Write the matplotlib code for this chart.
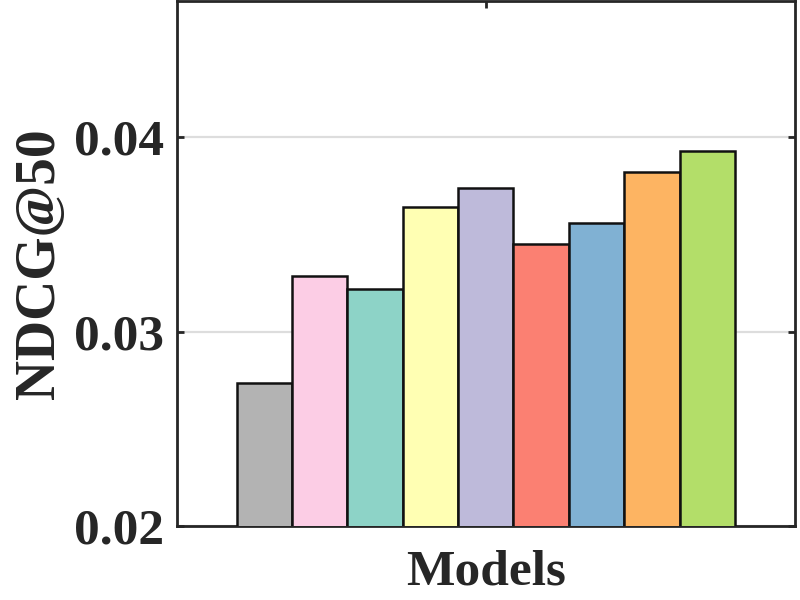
import numpy as np
import matplotlib
matplotlib.use('Agg')
import matplotlib.pyplot as plt

# nilai NDCG@50 per model
models = ['M1', 'M2', 'M3', 'M4', 'M5', 'M6', 'M7', 'M8', 'M9']
ndcg50 = [0.02738, 0.03287, 0.03221, 0.03641, 0.03738, 0.03451, 0.03559, 0.03821, 0.03928]
colors = ['#b3b3b3', '#fccde5', '#8dd3c7', '#ffffb3', '#bebada',
          '#fb8072', '#80b1d3', '#fdb462', '#b3de69']
yticks = [0.02, 0.03, 0.04]

plt.rcParams['font.family'] = ['Liberation Serif', 'DejaVu Serif']
plt.rcParams['font.weight'] = 'bold'

fig = plt.figure(figsize=(8, 6), dpi=100)
ax = fig.add_axes([0.221, 0.1233, 0.7725, 0.875])

w = 0.0896
x = (np.arange(len(models)) - (len(models) - 1) / 2) * w
ax.bar(x, ndcg50, width=w, color=colors, edgecolor='#111111', linewidth=1.8, zorder=3)

ax.set_xlim(-0.5, 0.5)
ax.set_ylim(0.02, 0.047)
ax.set_yticks(yticks)
ax.set_yticklabels(['%.2f' % v for v in yticks])
ax.set_xticks([0])
ax.set_xticklabels([''])

ax.yaxis.grid(True, color='#dddddd', linewidth=1.6, zorder=0)
ax.set_axisbelow(True)

for s in ax.spines.values():
    s.set_color('#262626')
    s.set_linewidth(2)

ax.tick_params(direction='in', length=5, width=2, color='#262626',
               top=True, right=True, labelsize=37, pad=9, labelcolor='#262626')

ax.set_ylabel('NDCG@50', fontsize=40, fontweight='bold', color='#262626', labelpad=6)
ax.set_xlabel('Models', fontsize=37, fontweight='bold', color='#262626', labelpad=8)

fig.savefig('out.png', dpi=100)
